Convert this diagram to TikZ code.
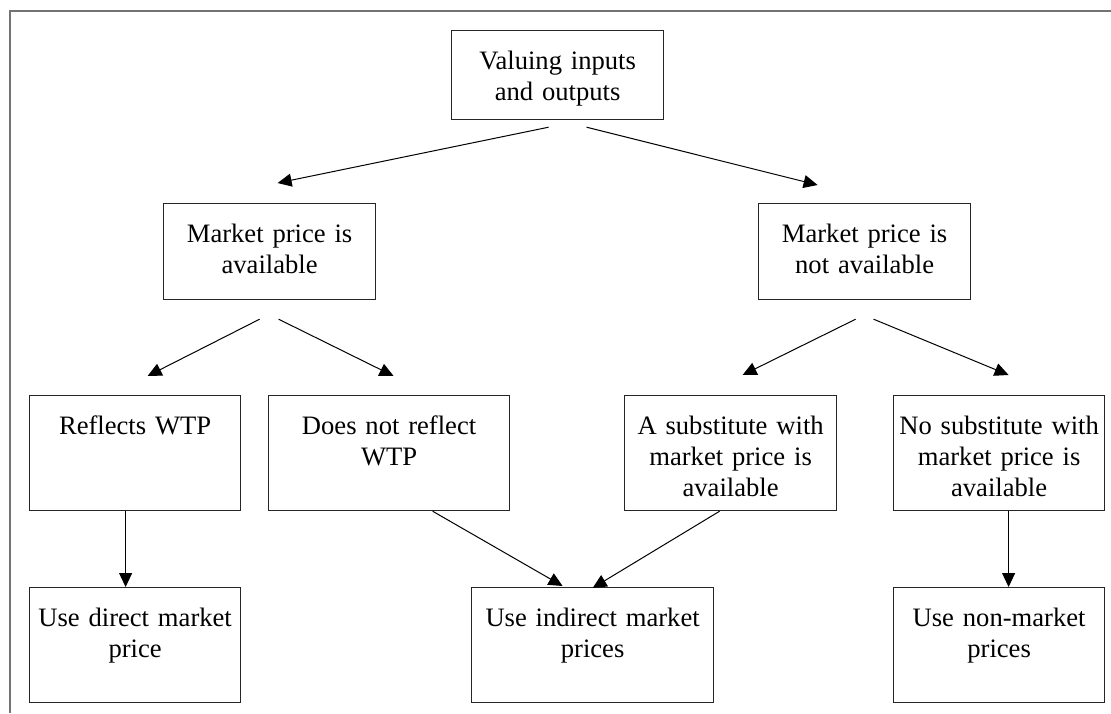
\documentclass[tikz,border=0pt]{standalone}
\usepackage{fontspec}
\setmainfont{Liberation Serif}
\usetikzlibrary{arrows.meta}
\tikzset{
    choice/.style = {
        draw = black!85,
        line width = 1.2pt,
        anchor = north west,
        inner xsep = 0pt,
        inner ysep = 0pt,
        align = center,
        text height = 39pt,
        font = \fontsize{26.6}{31}\selectfont,
        },
    head box/.style = {
        text depth = 50pt,
        },
    mid box/.style = {
        text depth = 57pt,
        },
    low box/.style = {
        text depth = 76pt,
        },
    flow/.style = {
        draw = black,
        line width = 1pt,
        -{Triangle[length=14pt,width=13pt]},
        },
    frame/.style = {
        draw = black!55,
        line width = 2pt,
        },
}

\begin{document}
\begin{tikzpicture}[x=1pt, y=-1pt]
            \useasboundingbox (0,0) rectangle (1111,713);
            \draw[frame] (9.5,713) -- (9.5,10.5) -- (1111,10.5);

            \node[choice, head box, text width=212pt] (value) at (451,30) {Valuing inputs\\and outputs};
            \node[choice, mid box, text width=212pt] (avail) at (163,203) {Market price is\\available};
            \node[choice, mid box, text width=212pt] (notavail) at (758,203) {Market price is\\not available};
            \node[choice, low box, text width=211pt] (reflects) at (29,395) {Reflects WTP};
            \node[choice, low box, text width=241pt] (noreflect) at (268,395) {Does not reflect\\WTP};
            \node[choice, low box, text width=212pt] (subst) at (624,395) {A substitute with\\market price is\\available};
            \node[choice, low box, text width=211pt] (nosubst) at (893,395) {No substitute with\\market price is\\available};
            \node[choice, low box, text width=211pt] (direct) at (29,587) {Use direct market\\price};
            \node[choice, low box, text width=242pt] (indirect) at (471,587) {Use indirect market\\prices};
            \node[choice, low box, text width=211pt] (nonmarket) at (893,587) {Use non-market\\prices};

            \path[flow] ([shift={(-9,7)}]value.south) -- ([shift={(8,-20)}]avail.north);
            \path[flow] ([shift={(29,7)}]value.south) -- ([shift={(-47,-18)}]notavail.north);
            \path[flow] ([shift={(-10,19)}]avail.south) -- ([shift={(12.5,-19)}]reflects.north);
            \path[flow] ([shift={(9,19)}]avail.south) -- ([shift={(4.5,-19)}]noreflect.north);
            \path[flow] ([shift={(-9,19)}]notavail.south) -- ([shift={(12,-20)}]subst.north);
            \path[flow] ([shift={(9,19)}]notavail.south) -- ([shift={(9.5,-20)}]nosubst.north);
            \path[flow] ([xshift=-9.5]reflects.south) -- ([xshift=-9.5]direct.north);
            \path[flow] ([xshift=9.5]nosubst.south) -- ([xshift=9.5]nonmarket.north);
            \path[flow] ([xshift=43.5]noreflect.south) -- ([shift={(-30,-1)}]indirect.north);
            \path[flow] ([xshift=-11]subst.south) -- ([yshift=-1]indirect.north);
        \end{tikzpicture}
\end{document}
